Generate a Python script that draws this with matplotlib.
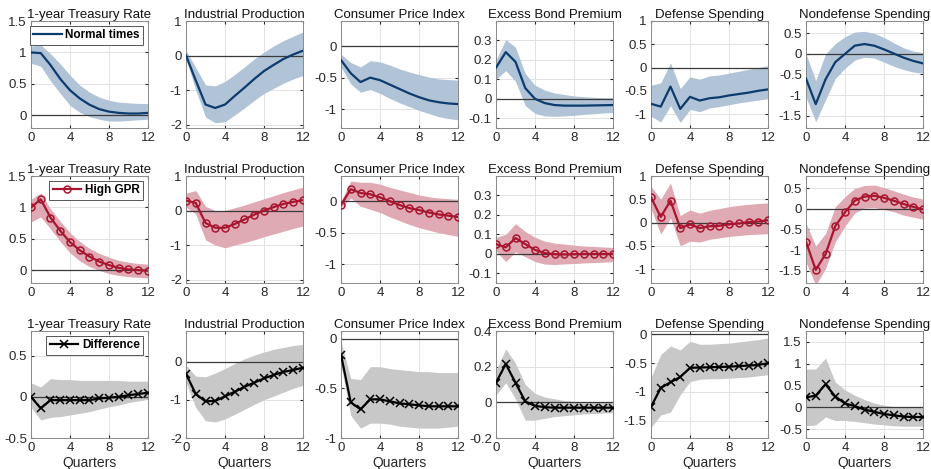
import numpy as np
import matplotlib.pyplot as plt

plt.rcParams['font.family'] = ['Liberation Sans', 'DejaVu Sans']

quarters = np.arange(13)
titles = ['1-year Treasury Rate', 'Industrial Production', 'Consumer Price Index',
          'Excess Bond Premium', 'Defense Spending', 'Nondefense Spending']

# --- normal times: point estimate, upper band, lower band
normal_mid = [
    [1.0, 0.99, 0.8, 0.58, 0.4, 0.27, 0.17, 0.1, 0.06, 0.04, 0.03, 0.03, 0.04],
    [0.0, -0.72, -1.42, -1.52, -1.42, -1.17, -0.93, -0.68, -0.45, -0.27, -0.1, 0.03, 0.14],
    [-0.22, -0.43, -0.57, -0.5, -0.54, -0.61, -0.68, -0.75, -0.81, -0.86, -0.89, -0.91, -0.92],
    [0.16, 0.24, 0.19, 0.055, 0.0, -0.022, -0.032, -0.035, -0.035, -0.035, -0.034, -0.033, -0.032],
    [-0.78, -0.84, -0.41, -0.89, -0.63, -0.71, -0.66, -0.64, -0.6, -0.57, -0.54, -0.5, -0.47],
    [-0.6, -1.22, -0.62, -0.2, 0.0, 0.2, 0.24, 0.2, 0.11, 0.01, -0.09, -0.17, -0.23],
]
normal_hi = [
    [1.1, 1.12, 0.98, 0.82, 0.64, 0.48, 0.37, 0.29, 0.24, 0.21, 0.2, 0.19, 0.19],
    [0.15, -0.35, -0.85, -0.88, -0.75, -0.55, -0.33, -0.1, 0.1, 0.28, 0.43, 0.56, 0.68],
    [-0.13, -0.26, -0.33, -0.23, -0.25, -0.3, -0.36, -0.41, -0.45, -0.49, -0.52, -0.53, -0.54],
    [0.2, 0.305, 0.265, 0.13, 0.07, 0.045, 0.03, 0.022, 0.015, 0.011, 0.008, 0.006, 0.005],
    [-0.38, -0.33, 0.1, -0.45, -0.2, -0.25, -0.18, -0.16, -0.12, -0.08, -0.04, 0.0, 0.04],
    [0.0, -0.65, 0.0, 0.25, 0.42, 0.53, 0.55, 0.5, 0.4, 0.27, 0.15, 0.07, 0.03],
]
normal_lo = [
    [0.83, 0.78, 0.55, 0.35, 0.16, 0.05, -0.02, -0.06, -0.09, -0.09, -0.08, -0.07, -0.06],
    [-0.1, -1.0, -1.78, -1.95, -1.92, -1.72, -1.52, -1.3, -1.1, -0.95, -0.8, -0.68, -0.58],
    [-0.33, -0.6, -0.73, -0.69, -0.75, -0.83, -0.9, -0.96, -1.02, -1.07, -1.12, -1.15, -1.17],
    [0.1, 0.145, 0.09, -0.035, -0.075, -0.088, -0.09, -0.088, -0.085, -0.08, -0.077, -0.073, -0.07],
    [-1.05, -1.17, -0.82, -1.18, -0.9, -0.95, -0.87, -0.84, -0.8, -0.76, -0.73, -0.7, -0.67],
    [-1.05, -1.65, -1.12, -0.6, -0.35, -0.15, -0.08, -0.1, -0.2, -0.3, -0.38, -0.44, -0.47],
]

# --- high geopolitical risk
gpr_mid = [
    [1.0, 1.13, 0.84, 0.63, 0.45, 0.32, 0.22, 0.14, 0.085, 0.04, 0.016, 0.005, -0.005],
    [0.29, 0.22, -0.36, -0.5, -0.5, -0.39, -0.26, -0.12, 0.0, 0.1, 0.19, 0.25, 0.3],
    [-0.06, 0.19, 0.13, 0.11, 0.06, 0.0, -0.06, -0.11, -0.14, -0.18, -0.21, -0.23, -0.25],
    [0.05, 0.033, 0.081, 0.05, 0.02, 0.004, -0.002, -0.003, -0.002, -0.001, -0.001, -0.001, -0.001],
    [0.54, 0.12, 0.47, -0.12, -0.04, -0.12, -0.08, -0.07, -0.04, -0.02, 0.01, 0.02, 0.05],
    [-0.8, -1.48, -1.1, -0.42, -0.08, 0.2, 0.3, 0.32, 0.27, 0.2, 0.12, 0.05, -0.01],
]
gpr_hi = [
    [1.13, 1.23, 0.98, 0.78, 0.6, 0.46, 0.35, 0.27, 0.21, 0.16, 0.13, 0.11, 0.1],
    [0.5, 0.58, 0.12, 0.0, 0.0, 0.08, 0.16, 0.25, 0.34, 0.43, 0.52, 0.6, 0.68],
    [0.0, 0.32, 0.3, 0.3, 0.27, 0.22, 0.18, 0.14, 0.1, 0.07, 0.05, 0.04, 0.03],
    [0.085, 0.1, 0.155, 0.115, 0.085, 0.065, 0.055, 0.05, 0.045, 0.04, 0.038, 0.035, 0.033],
    [0.78, 0.5, 0.85, 0.15, 0.27, 0.2, 0.26, 0.3, 0.34, 0.37, 0.39, 0.41, 0.42],
    [-0.35, -0.9, -0.6, 0.05, 0.3, 0.5, 0.57, 0.58, 0.52, 0.44, 0.36, 0.29, 0.24],
]
gpr_lo = [
    [0.77, 0.85, 0.66, 0.46, 0.28, 0.15, 0.06, 0.0, -0.05, -0.08, -0.1, -0.11, -0.12],
    [0.1, -0.1, -0.85, -1.0, -1.08, -1.0, -0.93, -0.85, -0.76, -0.68, -0.6, -0.52, -0.45],
    [-0.1, 0.05, -0.08, -0.13, -0.18, -0.25, -0.31, -0.37, -0.42, -0.46, -0.5, -0.53, -0.56],
    [0.015, -0.04, 0.01, -0.015, -0.04, -0.053, -0.055, -0.052, -0.05, -0.047, -0.045, -0.043, -0.04],
    [0.3, -0.25, 0.1, -0.5, -0.4, -0.42, -0.36, -0.33, -0.3, -0.28, -0.26, -0.25, -0.24],
    [-1.3, -1.85, -1.45, -0.8, -0.42, -0.1, 0.02, 0.03, -0.01, -0.07, -0.15, -0.2, -0.25],
]

# --- difference between the two regimes
diff_mid = [
    [0.0, -0.14, -0.04, -0.04, -0.04, -0.04, -0.04, -0.02, -0.01, 0.0, 0.02, 0.035, 0.05],
    [-0.32, -0.85, -1.04, -1.03, -0.91, -0.79, -0.66, -0.55, -0.44, -0.35, -0.27, -0.22, -0.16],
    [-0.16, -0.64, -0.71, -0.61, -0.61, -0.63, -0.65, -0.66, -0.67, -0.68, -0.68, -0.68, -0.68],
    [0.11, 0.215, 0.11, 0.005, -0.02, -0.027, -0.03, -0.03, -0.03, -0.03, -0.03, -0.03, -0.03],
    [-1.26, -0.93, -0.83, -0.74, -0.58, -0.575, -0.57, -0.565, -0.56, -0.55, -0.54, -0.53, -0.5],
    [0.23, 0.27, 0.53, 0.25, 0.09, 0.03, -0.05, -0.1, -0.15, -0.18, -0.21, -0.22, -0.22],
]
diff_hi = [
    [0.17, 0.12, 0.22, 0.21, 0.21, 0.2, 0.2, 0.2, 0.2, 0.2, 0.19, 0.19, 0.19],
    [-0.1, -0.38, -0.4, -0.3, -0.18, -0.05, 0.07, 0.17, 0.25, 0.32, 0.37, 0.42, 0.45],
    [-0.02, -0.4, -0.41, -0.28, -0.28, -0.3, -0.31, -0.32, -0.33, -0.33, -0.34, -0.34, -0.34],
    [0.18, 0.3, 0.22, 0.1, 0.05, 0.03, 0.02, 0.01, 0.005, 0.002, 0.002, 0.002, 0.002],
    [-0.75, -0.35, -0.2, -0.27, -0.12, -0.17, -0.17, -0.16, -0.15, -0.13, -0.11, -0.09, -0.06],
    [0.88, 0.88, 1.13, 0.58, 0.4, 0.28, 0.18, 0.1, 0.05, 0.02, 0.0, 0.0, 0.0],
]
diff_lo = [
    [-0.13, -0.28, -0.25, -0.24, -0.22, -0.2, -0.18, -0.15, -0.12, -0.1, -0.07, -0.05, -0.03],
    [-0.55, -1.2, -1.55, -1.58, -1.5, -1.38, -1.25, -1.12, -1.0, -0.9, -0.8, -0.7, -0.62],
    [-0.27, -0.77, -0.9, -0.85, -0.85, -0.86, -0.88, -0.89, -0.9, -0.9, -0.9, -0.89, -0.88],
    [0.04, 0.11, 0.02, -0.1, -0.1, -0.09, -0.08, -0.075, -0.07, -0.065, -0.063, -0.06, -0.058],
    [-1.62, -1.4, -1.35, -1.05, -0.82, -0.78, -0.77, -0.77, -0.76, -0.75, -0.74, -0.72, -0.7],
    [-0.42, -0.4, -0.22, -0.3, -0.3, -0.32, -0.35, -0.38, -0.4, -0.42, -0.43, -0.43, -0.43],
]

# axis limits and ticks per row
ylims_top = [(-0.2, 1.5), (-2.1, 1), (-1.3, 0.4), (-0.15, 0.4), (-1.3, 1), (-1.8, 0.8)]
yticks_top = [[0, 0.5, 1, 1.5], [-2, -1, 0, 1], [-1, -0.5, 0], [-0.1, 0, 0.1, 0.2, 0.3],
              [-1, -0.5, 0, 0.5, 1], [-1.5, -1, -0.5, 0, 0.5]]
ylims_diff = [(-0.5, 0.8), (-2, 0.8), (-1, 0.08), (-0.2, 0.4), (-1.8, 0.06), (-0.7, 1.75)]
yticks_diff = [[-0.5, 0, 0.5], [-2, -1, 0], [-1, -0.5, 0], [-0.2, 0, 0.2, 0.4],
               [-1.5, -1, -0.5, 0], [-0.5, 0, 0.5, 1, 1.5]]

rows = [
    dict(mid=normal_mid, hi=normal_hi, lo=normal_lo, line='#0c3b6d', band='#b1c3d6',
         marker=None, label='Normal times', ylims=ylims_top, yticks=yticks_top),
    dict(mid=gpr_mid, hi=gpr_hi, lo=gpr_lo, line='#a8152f', band='#dfaab4',
         marker='o', label='High GPR', ylims=ylims_top, yticks=yticks_top),
    dict(mid=diff_mid, hi=diff_hi, lo=diff_lo, line='#000000', band='#c8c8c8',
         marker='x', label='Difference', ylims=ylims_diff, yticks=yticks_diff),
]

W, H = 931, 469
fig = plt.figure(figsize=(W / 100, H / 100), dpi=100)
lefts = [31, 186, 341, 496, 651, 806]
tops = [21, 176, 331]
aw, ah = 117, 107

for r, row in enumerate(rows):
    for c in range(6):
        ax = fig.add_axes([lefts[c] / W, 1 - (tops[r] + ah) / H, aw / W, ah / H])
        ax.fill_between(quarters, row['lo'][c], row['hi'][c], color=row['band'], lw=0, zorder=1)
        ax.axhline(0, color='#3a3a3a', lw=0.9, zorder=2)
        ax.plot(quarters, row['mid'][c], color=row['line'], lw=1.6, zorder=3,
                marker=row['marker'], ms=5 if row['marker'] == 'o' else 6,
                mfc='none', mew=1.1, label=row['label'])
        ax.set_xlim(0, 12)
        ax.set_ylim(*row['ylims'][c])
        ax.set_xticks([0, 4, 8, 12])
        ax.set_yticks(row['yticks'][c])
        ax.yaxis.set_major_formatter(plt.FuncFormatter(lambda v, p: ('%g' % v)))
        ax.grid(True, color='#e2e2e2', lw=0.7, zorder=0)
        ax.set_axisbelow(True)
        ax.tick_params(direction='in', length=2.5, labelsize=9.5, colors='#262626',
                       top=True, right=True, pad=3)
        for sp in ax.spines.values():
            sp.set_color('#8a8a8a')
            sp.set_linewidth(0.7)
        ax.set_title(titles[c], fontsize=9.5, pad=2, color='#111111')
        if r == 2:
            ax.set_xlabel('Quarters', fontsize=10, labelpad=1, color='#262626')
        if c == 0:
            leg = ax.legend(loc='upper right', fontsize=8.5, handlelength=2.4,
                            borderpad=0.3, handletextpad=0.3, fancybox=False,
                            framealpha=1, borderaxespad=0.4)
            leg.get_frame().set_edgecolor('#555555')
            leg.get_frame().set_linewidth(0.7)
            for t in leg.get_texts():
                t.set_fontweight('bold')

fig.savefig('out.png', dpi=100)
